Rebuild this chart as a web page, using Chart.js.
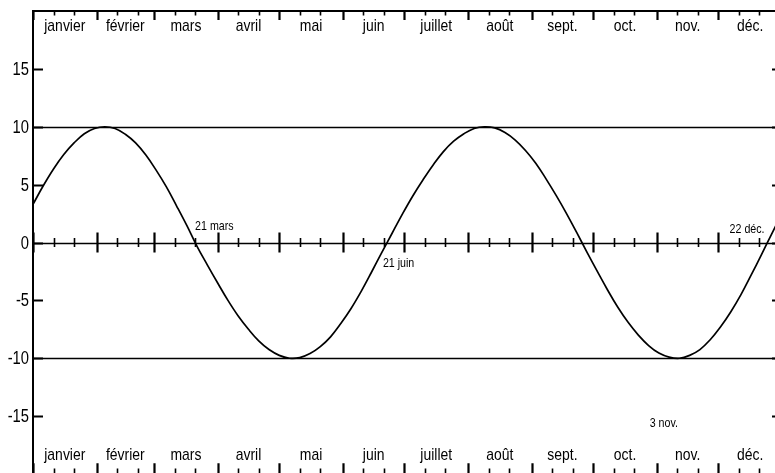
<!DOCTYPE html>
<html>
<head>
<meta charset="utf-8">
<script src="https://cdn.jsdelivr.net/npm/chart.js@4"></script>
<style>
  html, body { margin: 0; padding: 0; background: #fff; overflow: hidden; }
  #wrap { position: absolute; left: 0; top: 0; width: 800px; height: 490px; }
</style>
</head>
<body>
<div id="wrap"><canvas id="chart" width="800" height="490"></canvas></div>
<script>
// mois (étiquettes) et jour de l'année du 1er de chaque mois
const months = ["janvier", "février", "mars", "avril", "mai", "juin", "juillet", "août", "sept.", "oct.", "nov.", "déc."];
const monthStarts = [0, 31, 59, 90, 120, 151, 181, 212, 243, 273, 304, 334, 365];

// courbe, un point tous les 5 jours
const days = [0, 5, 10, 15, 20, 25, 30, 35, 40, 45, 50, 55, 60, 65, 70, 75, 80, 85, 90, 95,
  100, 105, 110, 115, 120, 125, 130, 135, 140, 145, 150, 155, 160, 165, 170, 175, 180, 185, 190, 195,
  200, 205, 210, 215, 220, 225, 230, 235, 240, 245, 250, 255, 260, 265, 270, 275, 280, 285, 290, 295,
  300, 305, 310, 315, 320, 325, 330, 335, 340, 345, 350, 355, 360, 365];
const values = [3.3, 4.9, 6.35, 7.6, 8.6, 9.4, 9.85, 10, 9.85, 9.35, 8.6, 7.55, 6.25, 4.8, 3.15, 1.45, -0.35, -1.95, -3.5, -5.0,
  -6.35, -7.5, -8.5, -9.25, -9.75, -10, -9.95, -9.6, -9.0, -8.15, -7.0, -5.7, -4.2, -2.55, -0.85, 0.8, 2.45, 4.0, 5.4, 6.7,
  7.85, 8.75, 9.4, 9.85, 10, 9.9, 9.5, 8.85, 7.95, 6.85, 5.5, 4.05, 2.5, 0.85, -0.85, -2.5, -4.1, -5.6, -6.9, -8.0,
  -8.9, -9.55, -9.9, -10, -9.75, -9.25, -8.4, -7.3, -6.0, -4.5, -2.8, -1.05, 0.75, 2.5];

const yTicks = [15, 10, 5, 0, -5, -10, -15];
const refLines = [10, 0, -10];

// repères datés (jour de l'année, valeur) et texte
const notes = [
  { day: 79, value: 1.4, text: "21 mars", align: "left" },
  { day: 170.5, value: -1.8, text: "21 juin", align: "left" },
  { day: 356.5, value: 1.1, text: "22 déc.", align: "right" },
  { day: 300.5, value: -15.6, text: "3 nov.", align: "left" }
];

const FONT = '"Liberation Sans", Arial, sans-serif';

// texte étroit (façon Arial Narrow)
function narrow(ctx, text, x, y, align, size) {
  ctx.save();
  ctx.translate(x, y);
  ctx.scale(0.82, 1);
  ctx.font = size + "px " + FONT;
  ctx.textAlign = align;
  ctx.textBaseline = "middle";
  ctx.fillStyle = "#000";
  ctx.fillText(text, 0, 0);
  ctx.restore();
}

const decor = {
  id: "decor",
  beforeDatasetsDraw(chart) {
    const { ctx, chartArea: a, scales: { x, y } } = chart;
    ctx.save();
    ctx.strokeStyle = "#000";
    // lignes horizontales
    ctx.lineWidth = 1.6;
    refLines.forEach(v => {
      const py = Math.round(y.getPixelForValue(v)) + 0.5;
      ctx.beginPath(); ctx.moveTo(a.left, py); ctx.lineTo(a.right, py); ctx.stroke();
    });
    // cadre
    ctx.lineWidth = 2;
    ctx.strokeRect(a.left, a.top, a.right - a.left, a.bottom - a.top);
    // graduations des y (vers l'intérieur) et valeurs
    yTicks.forEach(v => {
      const py = Math.round(y.getPixelForValue(v)) + 0.5;
      ctx.beginPath();
      ctx.moveTo(a.left, py); ctx.lineTo(a.left + 10, py);
      ctx.moveTo(a.right, py); ctx.lineTo(a.right - 10, py);
      ctx.stroke();
      narrow(ctx, String(v), a.left - 4, py + 1, "right", 18);
    });
    // graduations des jours : 1er (long), 11 et 21 (court)
    const y0 = y.getPixelForValue(0);
    monthStarts.slice(0, 12).forEach(m => {
      [0, 10, 20].forEach(off => {
        const px = Math.round(x.getPixelForValue(m + off)) + 0.5;
        const major = off === 0;
        const t = major ? 9 : 4.5;
        ctx.lineWidth = major ? 2.2 : 1.6;
        ctx.beginPath();
        ctx.moveTo(px, a.top); ctx.lineTo(px, a.top + t);
        ctx.moveTo(px, a.bottom); ctx.lineTo(px, a.bottom - t * 1.2);
        ctx.moveTo(px, y0 - (major ? 10 : 4.5)); ctx.lineTo(px, y0 + (major ? 10 : 4.5));
        ctx.stroke();
      });
    });
    // noms des mois en haut et en bas
    months.forEach((name, i) => {
      const px = x.getPixelForValue((monthStarts[i] + monthStarts[i + 1]) / 2);
      narrow(ctx, name, px, a.top + 15, "center", 17);
      narrow(ctx, name, px, a.bottom - 19, "center", 17);
    });
    // repères datés
    notes.forEach(n => {
      narrow(ctx, n.text, x.getPixelForValue(n.day), y.getPixelForValue(n.value), n.align, 13);
    });
    ctx.restore();
  }
};

new Chart(document.getElementById("chart"), {
  type: "line",
  data: {
    datasets: [{
      data: days.map((d, i) => ({ x: d, y: values[i] })),
      borderColor: "#000",
      borderWidth: 1.7,
      pointRadius: 0,
      tension: 0.4,
      fill: false
    }]
  },
  options: {
    responsive: false,
    animation: false,
    layout: { padding: { top: 11, right: 18, bottom: 16, left: 0 } },
    plugins: { legend: { display: false }, tooltip: { enabled: false } },
    scales: {
      x: { type: "linear", min: 0, max: 365, display: false },
      y: {
        type: "linear", min: -20, max: 20,
        afterBuildTicks: s => { s.ticks = yTicks.map(v => ({ value: v })); },
        afterFit: s => { s.width = 33; },
        grid: { display: false, drawTicks: false },
        border: { display: false },
        ticks: { display: false }
      }
    }
  },
  plugins: [decor]
});
</script>
</body>
</html>
